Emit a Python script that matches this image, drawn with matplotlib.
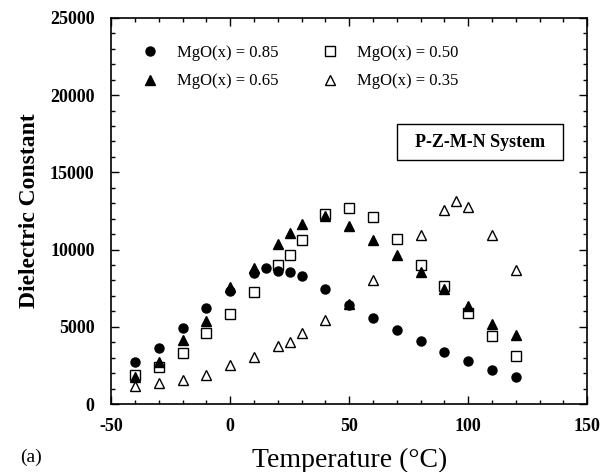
import numpy as np
import matplotlib.pyplot as plt
import matplotlib.transforms as mtransforms
from matplotlib.lines import Line2D
from matplotlib.patches import Rectangle
from matplotlib.ticker import MultipleLocator

plt.rcParams['font.family'] = ['Liberation Serif', 'DejaVu Serif']
plt.rcParams['axes.unicode_minus'] = False

# MgO(x) = 0.85 (filled circles)
t_085 = [-40, -30, -20, -10, 0, 10, 15, 20, 25, 30, 40, 50, 60, 70, 80, 90, 100, 110, 120]
k_085 = [2700, 3650, 4950, 6230, 7300, 8500, 8780, 8620, 8560, 8320, 7460, 6440, 5600, 4780, 4050, 3380, 2760, 2200, 1720]

# MgO(x) = 0.65 (filled triangles)
t_065 = [-40, -30, -20, -10, 0, 10, 20, 25, 30, 40, 50, 60, 70, 80, 90, 100, 110, 120]
k_065 = [1780, 2740, 4140, 5370, 7600, 8800, 10330, 11080, 11680, 12160, 11560, 10600, 9640, 8560, 7420, 6340, 5180, 4470]

# MgO(x) = 0.50 (open squares)
t_050 = [-40, -30, -20, -10, 0, 10, 20, 25, 30, 40, 50, 60, 70, 80, 90, 100, 110, 120]
k_050 = [1880, 2420, 3320, 4570, 5800, 7270, 8990, 9680, 10650, 12330, 12700, 12110, 10690, 9030, 7630, 5900, 4400, 3130]

# MgO(x) = 0.35 (open triangles)
t_035 = [-40, -30, -20, -10, 0, 10, 20, 25, 30, 40, 50, 60, 80, 90, 95, 100, 110, 120]
k_035 = [1160, 1340, 1550, 1880, 2520, 3060, 3750, 3990, 4570, 5470, 6500, 8060, 10970, 12590, 13130, 12760, 10970, 8710]

labels = ['MgO(x) = 0.85', 'MgO(x) = 0.65', 'MgO(x) = 0.50', 'MgO(x) = 0.35']

fig = plt.figure(figsize=(6.01, 4.72), dpi=100)
ax = fig.add_axes([0.185, 0.144, 0.792, 0.818])

ms = 6.5
ax.plot(t_035, k_035, '^', ms=ms + 0.5, mfc='white', mec='black', mew=1.0, ls='none')
ax.plot(t_050, k_050, 's', ms=ms, mfc='white', mec='black', mew=1.0, ls='none')
ax.plot(t_065, k_065, '^', ms=ms + 0.5, mfc='black', mec='black', ls='none')
ax.plot(t_085, k_085, 'o', ms=ms, mfc='black', mec='black', ls='none')

ax.set_xlim(-50, 150)
ax.set_ylim(0, 25000)
ax.xaxis.set_major_locator(MultipleLocator(50))
ax.xaxis.set_minor_locator(MultipleLocator(10))
ax.yaxis.set_major_locator(MultipleLocator(5000))
ax.yaxis.set_minor_locator(MultipleLocator(1000))
ax.tick_params(which='both', direction='in', top=True, right=True, width=1.0)
ax.tick_params(which='major', length=6, labelsize=13)
ax.tick_params(axis='x', which='major', pad=10)
ax.tick_params(axis='y', which='major', pad=12)
ax.tick_params(which='minor', length=3)
fig.canvas.draw()
xlabs = ax.get_xticklabels()
for lab in xlabs + ax.get_yticklabels():
    lab.set_fontweight('bold')
# last x label sits a little left of its tick, as in the original
xlabs[-1].set_transform(xlabs[-1].get_transform() +
                        mtransforms.ScaledTranslation(-4 / 100, 0, fig.dpi_scale_trans))
for sp in ax.spines.values():
    sp.set_linewidth(1.2)

ax.set_xlabel('Temperature (°C)', fontsize=20, labelpad=9)
ax.set_ylabel('Dielectric Constant', fontsize=17, fontweight='bold', labelpad=7)

handles = [
    Line2D([], [], marker='o', ls='none', ms=ms, mfc='black', mec='black'),
    Line2D([], [], marker='^', ls='none', ms=ms + 0.5, mfc='black', mec='black'),
    Line2D([], [], marker='s', ls='none', ms=ms, mfc='white', mec='black', mew=1.0),
    Line2D([], [], marker='^', ls='none', ms=ms + 0.5, mfc='white', mec='black', mew=1.0),
]
ax.legend(handles, labels, ncol=2, frameon=False, loc='upper left',
          bbox_to_anchor=(0.065, 0.93), borderaxespad=0, borderpad=0,
          handlelength=1.0, handletextpad=1.1, columnspacing=2.6,
          labelspacing=0.75, fontsize=12)

ax.add_patch(Rectangle((70, 15800), 70, 2300, fill=False, ec='black', lw=1.0))
ax.text(105, 16950, 'P-Z-M-N System', ha='center', va='center', fontsize=13, fontweight='bold')

fig.text(0.034, 0.012, '(a)', fontsize=14, ha='left', va='bottom')

fig.savefig('out.png', dpi=100)
